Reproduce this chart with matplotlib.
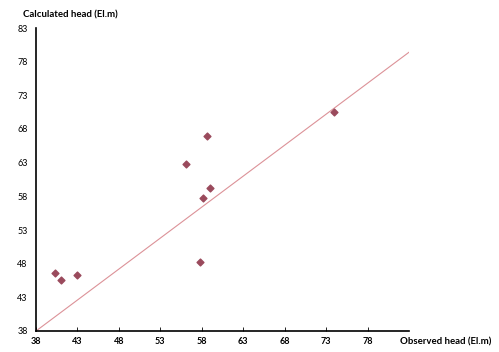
import matplotlib.pyplot as plt

# observed vs calculated head (El.m)
observed = [40.3, 41.0, 43.0, 56.1, 57.8, 58.1, 58.6, 59.0, 74.0]
calculated = [46.6, 45.6, 46.3, 62.8, 48.3, 57.7, 66.9, 59.2, 70.5]

# fitted line end points
line_x = [38, 83]
line_y = [38, 79.4]

ticks = [38, 43, 48, 53, 58, 63, 68, 73, 78, 83]

plt.rcParams['font.family'] = ['Lato', 'DejaVu Sans']

fig = plt.figure(figsize=(4.99, 3.52), dpi=100)
ax = fig.add_axes([36 / 499, 21 / 352, 373 / 499, 303 / 352])

ax.plot(line_x, line_y, color='#dc9298', linewidth=0.8)
ax.scatter(observed, calculated, marker='D', s=12, color='#9a4a5c', zorder=3)

ax.set_xlim(38, 83)
ax.set_ylim(38, 83)
ax.set_xticks(ticks[:-1])
ax.set_yticks(ticks)
ax.tick_params(axis='x', direction='in', length=3, width=0.6, labelsize=6.5, pad=4)
ax.tick_params(axis='y', length=0, labelsize=6.5, pad=6)
for lbl in ax.get_xticklabels():
    lbl.set_fontweight('bold')

for s in ['top', 'right']:
    ax.spines[s].set_visible(False)
for s in ['left', 'bottom']:
    ax.spines[s].set_linewidth(1.2)

fig.text(23 / 499, 1 - 15 / 352, 'Calculated head (El.m)', fontsize=6.9,
         fontweight='bold', va='center', ha='left')
fig.text(400 / 499, 1 - 342 / 352, 'Observed head (El.m)', fontsize=6.9,
         fontweight='bold', va='center', ha='left')

fig.savefig('out.png', dpi=100)
